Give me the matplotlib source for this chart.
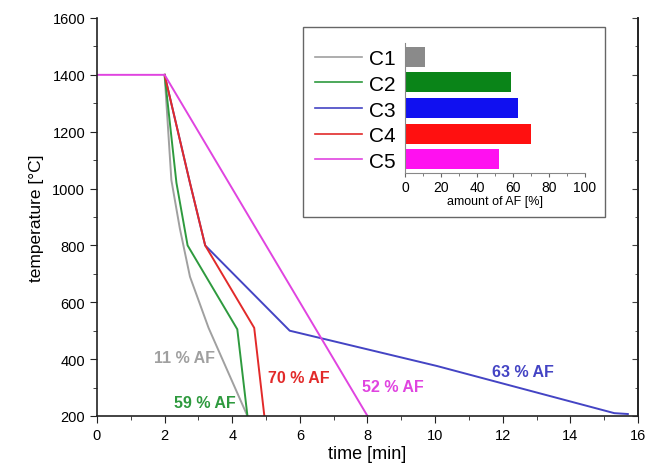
import numpy as np
import matplotlib.pyplot as plt
from matplotlib.patches import Rectangle
from matplotlib.ticker import MultipleLocator
import matplotlib.transforms as mtransforms

plt.rcParams['font.family'] = ['Liberation Sans', 'DejaVu Sans']

# cooling curves, time [min] / temperature [degC]
c1_t = [2.0, 2.2, 2.45, 2.75, 3.3, 4.45]
c1_T = [1400, 1030, 860, 690, 510, 200]
c2_t = [2.0, 2.35, 2.68, 4.15, 4.45]
c2_T = [1400, 1020, 800, 505, 200]
c3_t = [2.0, 2.75, 3.2, 5.7, 10.05, 15.3, 15.7]
c3_T = [1400, 1020, 800, 500, 376, 210, 207]
c4_t = [2.0, 2.75, 3.2, 4.65, 4.95]
c4_T = [1400, 1020, 800, 510, 200]
c5_t = [0.0, 2.0, 8.0]
c5_T = [1400, 1400, 200]

names = ['C1', 'C2', 'C3', 'C4', 'C5']
af_amount = [11, 59, 63, 70, 52]
line_colors = ['#a0a0a0', '#2e9a3e', '#4444c4', '#e22a2a', '#e044e0']
bar_colors = ['#8a8a8a', '#0a8418', '#1010f0', '#ff1010', '#ff10f0']

# label positions for the "% AF" annotations
lab_t = [2.6, 3.2, 12.6, 5.98, 8.76]
lab_T = [407, 249, 358, 337, 305]

fig = plt.figure(figsize=(6.5, 4.77), dpi=100)
ax = fig.add_axes([0.1492, 0.1258, 0.8323, 0.8344])

curves = [(c1_t, c1_T), (c2_t, c2_T), (c3_t, c3_T), (c4_t, c4_T), (c5_t, c5_T)]
order = [2, 0, 1, 3, 4]  # blue under red
for i in order:
    t, T = curves[i]
    ax.plot(t, T, color=line_colors[i], lw=1.4)

for i in range(5):
    ax.text(lab_t[i], lab_T[i], '%d %% AF' % af_amount[i], color=line_colors[i],
            fontsize=11.5, fontweight='bold', ha='center', va='center')

ax.set_xlim(0, 16)
ax.set_ylim(200, 1600)
ax.xaxis.set_major_locator(MultipleLocator(2))
ax.xaxis.set_minor_locator(MultipleLocator(1))
ax.yaxis.set_major_locator(MultipleLocator(200))
ax.yaxis.set_minor_locator(MultipleLocator(100))
ax.spines['top'].set_visible(False)
for s in ['left', 'bottom', 'right']:
    ax.spines[s].set_color('#222222')
    ax.spines[s].set_linewidth(1.2)
ax.tick_params(which='both', direction='out', labelsize=10.5, color='#222222')
ax.tick_params(which='major', length=5)
ax.tick_params(which='minor', length=3)
ax.set_xlabel('time [min]', fontsize=13, labelpad=2)
ax.set_ylabel('temperature [°C]', fontsize=12.5, labelpad=6)

# right axis: inward ticks, no labels
sec = ax.secondary_yaxis('right')
sec.yaxis.set_major_locator(MultipleLocator(200))
sec.yaxis.set_minor_locator(MultipleLocator(100))
sec.tick_params(which='both', direction='in', labelright=False, color='#444444')
sec.tick_params(which='major', length=4)
sec.tick_params(which='minor', length=2)
sec.spines['right'].set_color('#222222')
sec.spines['right'].set_linewidth(1.2)

# inset frame
fig.patches.append(Rectangle((303 / 650, 1 - 218 / 477), 302 / 650, 190 / 477,
                             transform=fig.transFigure, fill=True, facecolor='white',
                             edgecolor='#666666', lw=1.0, zorder=2))

ax_in = fig.add_axes([0.6231, 0.6352, 0.2769, 0.2725])
ax_in.set_zorder(3)
ax_in.patch.set_alpha(0)
y = np.arange(len(names))
ax_in.barh(y, af_amount, height=0.78, color=bar_colors)
ax_in.set_ylim(4.54, -0.54)
ax_in.set_xlim(0, 100)
ax_in.xaxis.set_major_locator(MultipleLocator(20))
ax_in.xaxis.set_minor_locator(MultipleLocator(10))
ax_in.set_yticks(y)
ax_in.set_yticklabels(names, fontsize=15)
ax_in.tick_params(axis='y', length=0, pad=7)
ax_in.tick_params(axis='x', which='both', direction='out', labelsize=10, color='#666666')
ax_in.tick_params(axis='x', which='major', length=3, pad=2)
ax_in.tick_params(axis='x', which='minor', length=2)
ax_in.spines['top'].set_visible(False)
ax_in.spines['right'].set_visible(False)
ax_in.spines['left'].set_color('#888888')
ax_in.spines['bottom'].set_color('#888888')
ax_in.spines['left'].set_linewidth(0.8)
ax_in.spines['bottom'].set_linewidth(0.8)
ax_in.set_xlabel('amount of AF [%]', fontsize=9, labelpad=1)

# legend lines beside the bar labels
trans = mtransforms.blended_transform_factory(ax_in.transAxes, ax_in.transData)
for i in range(5):
    ax_in.plot([-0.5, -0.24], [y[i], y[i]], color=line_colors[i], lw=1.2,
               transform=trans, clip_on=False)

fig.savefig('out.png', dpi=100)
